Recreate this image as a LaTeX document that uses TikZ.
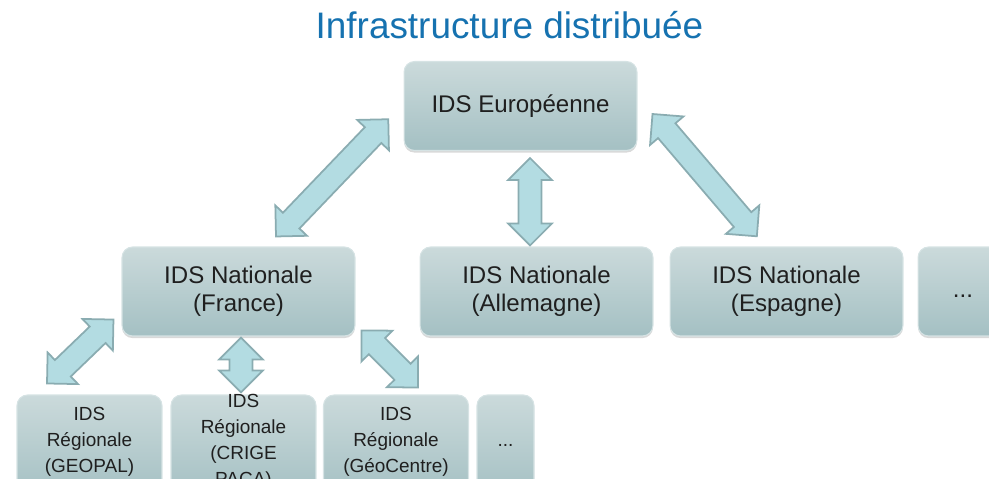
\documentclass[tikz,border=0pt]{standalone}
\usepackage{fontspec}
\setmainfont{Liberation Sans}
\usepackage{tikz}
\usetikzlibrary{calc,positioning,shadows}

\definecolor{bleuTitre}{RGB}{22,114,176}
\definecolor{boiteHaut}{RGB}{203,218,219}
\definecolor{boiteBas}{RGB}{164,192,195}
\definecolor{boiteBord}{RGB}{214,227,228}
\definecolor{flecheFond}{RGB}{179,220,226}
\definecolor{flecheBord}{RGB}{138,172,177}

\tikzset{
  titre/.style={text=bleuTitre, font=\fontsize{21}{25}\selectfont, inner sep=0pt},
  idsBoite/.style={rectangle, rounded corners=6pt, draw=boiteBord, line width=0.6pt,
    top color=boiteHaut, bottom color=boiteBas, text=black!88, align=center,
    font=\fontsize{13.7}{15.9}\selectfont, minimum width=4.66cm, minimum height=1.78cm,
    drop shadow={shadow xshift=0pt, shadow yshift=-1.2pt, opacity=0.3}},
  idsRegion/.style={idsBoite, font=\fontsize{10.8}{14.8}\selectfont, minimum width=2.9cm, minimum height=2.04cm},
  fleche/.style={draw=flecheBord, fill=flecheFond, line width=1pt, line join=miter},
}

% Text der Regionalboxen ragt oben und unten heraus
\newcommand{\texteRegion}[1]{\smash{\begin{tabular}[c]{@{}c@{}}#1\end{tabular}}}

% Blockpfeil mit zwei Spitzen von #1 nach #2
\newcommand{\doubleFleche}[2]{%
  \path let \p1=(#1), \p2=(#2) in
    \pgfextra{\pgfmathsetmacro{\flWinkel}{atan2(\y2-\y1,\x2-\x1)}\global\let\flWinkel\flWinkel
              \pgfmathsetmacro{\flLaenge}{veclen(\x2-\x1,\y2-\y1)}\global\let\flLaenge\flLaenge};
  \draw[fleche, shift={(#1)}, rotate=\flWinkel]
    (0pt,0pt) -- (\kopfL,\kopfB) -- (\kopfL,\schaftB) -- ({\flLaenge pt-\kopfL},\schaftB)
    -- ({\flLaenge pt-\kopfL},\kopfB) -- (\flLaenge pt,0pt) -- ({\flLaenge pt-\kopfL},-\kopfB)
    -- ({\flLaenge pt-\kopfL},-\schaftB) -- (\kopfL,-\schaftB) -- (\kopfL,-\kopfB) -- cycle;
}

\begin{document}
\begin{tikzpicture}[x=0.02cm, y=-0.02cm]
%Ein Pixel der Vorlage = 0.02cm, y zaehlt nach unten
  \def\kopfL{12.5pt}
  \def\kopfB{12.5pt}
  \def\schaftB{6.5pt}
  \useasboundingbox (0,0) rectangle (989,479);
  \clip (0,0) rectangle (989,479);
\node[titre, anchor=base] (titre) at (509.5,39) {Infrastructure distribuée};
\node[idsBoite] (eu) at (520.5,106) {IDS Européenne};
\node[idsBoite] (natFR) at (238.5,291.5) {IDS Nationale\\(France)};
\node[idsBoite] (natDE) at (536.5,291.5) {IDS Nationale\\(Allemagne)};
\node[idsBoite] (natES) at (786.5,291.5) {IDS Nationale\\(Espagne)};
\node[idsBoite, minimum width=1.8cm] (natPlus) at (963,291.5) {\strut...};
\node[idsRegion] (regGeopal) at (89.5,446) {\texteRegion{IDS\\Régionale\\(GEOPAL)}};
\node[idsRegion] (regCrige) at (243.5,446) {\texteRegion{IDS\\Régionale\\(CRIGE\\PACA)}};
\node[idsRegion] (regCentre) at (396,446) {\texteRegion{IDS\\Régionale\\(GéoCentre)}};
\node[idsRegion, minimum width=1.14cm] (regPlus) at (505.5,446) {\texteRegion{...}};
%Enden der Pfeile
\coordinate (frVersEu) at ($(natFR.north)+(37.5,-10)$);
\coordinate (euVersFr) at ($(eu.west)+(-15,13)$);
\coordinate (euVersDe) at ($(eu.south)+(9.5,7)$);
\coordinate (deVersEu) at ($(natDE.north)+(-6.5,-1)$);
\coordinate (euVersEs) at ($(eu.east)+(15,8)$);
\coordinate (esVersEu) at ($(natES.north)+(-29.5,-10)$);
\coordinate (geopalVersFr) at ($(regGeopal.north)+(-42.5,-11)$);
\coordinate (frVersGeopal) at ($(natFR.south west)+(-8,-17)$);
\coordinate (frVersCrige) at ($(natFR.south)+(2.5,1)$);
\coordinate (crigeVersFr) at ($(regCrige.north)+(-2.5,-2)$);
\coordinate (frVersCentre) at ($(natFR.south east)+(6,-6)$);
\coordinate (centreVersFr) at ($(regCentre.north)+(22,-7)$);
\foreach \von/\nach in {frVersEu/euVersFr, euVersDe/deVersEu, euVersEs/esVersEu,
    geopalVersFr/frVersGeopal, frVersCrige/crigeVersFr, frVersCentre/centreVersFr}{
  \doubleFleche{\von}{\nach}
}
\end{tikzpicture}
\end{document}
